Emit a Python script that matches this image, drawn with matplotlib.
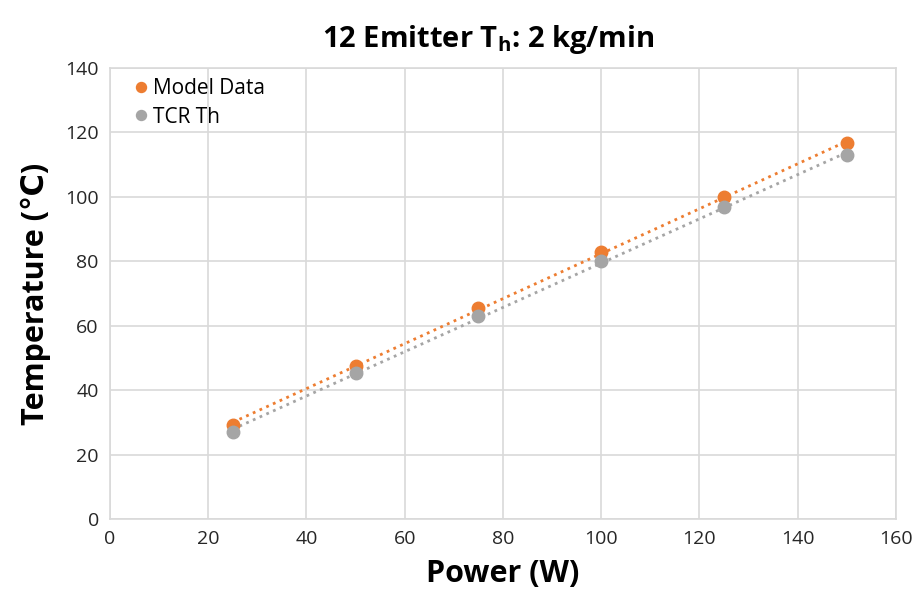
import matplotlib
matplotlib.use("Agg")
import matplotlib.pyplot as plt
import numpy as np

plt.rcParams['font.family'] = ['Open Sans', 'DejaVu Sans']

power = [25, 50, 75, 100, 125, 150]
model_data = [29.3, 47.6, 65.5, 82.9, 99.8, 116.6]
tcr_th = [27.0, 45.3, 62.9, 80.0, 96.7, 113.0]

orange = '#ED7D31'
gray = '#A5A5A5'

fig = plt.figure(figsize=(9.18, 6.12), dpi=100)
ax = fig.add_axes([0.1198, 0.152, 0.8562, 0.737])

xs = np.array(power, dtype=float)
for ys, c, lab in [(model_data, orange, 'Model Data'), (tcr_th, gray, 'TCR Th')]:
    ax.plot(power, ys, 'o', color=c, markersize=9, label=lab, zorder=3)
    # linear trendline
    k, b = np.polyfit(xs, ys, 1)
    ax.plot(xs, k * xs + b, ':', color=c, linewidth=2, zorder=2)

ax.set_xlim(0, 160)
ax.set_ylim(0, 140)
ax.set_xticks(range(0, 161, 20))
ax.set_yticks(range(0, 141, 20))
ax.grid(True, color='#D9D9D9', linewidth=1.2)
ax.set_axisbelow(True)
for s in ax.spines.values():
    s.set_color('#D9D9D9')
    s.set_linewidth(1.2)
ax.tick_params(length=0, labelsize=14, pad=8)
for t in ax.get_xticklabels() + ax.get_yticklabels():
    t.set_color('#262626')

ax.set_xlabel('Power (W)', fontsize=22, fontweight='bold', labelpad=8)
ax.set_ylabel('Temperature (\u2103)', fontsize=22, fontweight='bold', labelpad=10)
fig.text(0.532, 0.935, r'12 Emitter T$_\mathregular{h}$: 2 kg/min', ha='center', va='center',
         fontsize=21, fontweight='bold')

ax.legend(loc='upper left', frameon=False, fontsize=15, handletextpad=0.0,
          bbox_to_anchor=(0.01, 1.0), borderaxespad=0.1, labelspacing=0.35,
          handlelength=1.2, markerscale=0.8)

fig.savefig('out.png', dpi=100)
